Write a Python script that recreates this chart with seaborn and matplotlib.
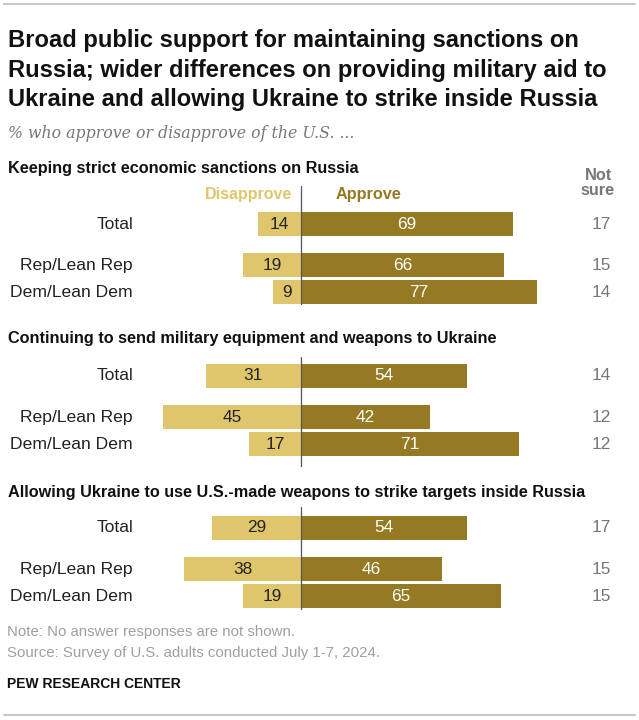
import matplotlib
matplotlib.use("Agg")
import matplotlib.pyplot as plt
import pandas as pd
import seaborn as sns

questions = [
    "Keeping strict economic sanctions on Russia",
    "Continuing to send military equipment and weapons to Ukraine",
    "Allowing Ukraine to use U.S.-made weapons to strike targets inside Russia",
]
groups = ["Total", "Rep/Lean Rep", "Dem/Lean Dem"]
disapprove = [[14, 19, 9], [31, 45, 17], [29, 38, 19]]
approve = [[69, 66, 77], [54, 42, 71], [54, 46, 65]]
not_sure = [[17, 15, 14], [14, 12, 12], [17, 15, 15]]

DARK = "#967a23"
LIGHT = "#dfc66c"
GRAY = "#777777"
LIGHTGRAY = "#a0a0a0"

sns.set_style("white")
plt.rcParams["font.family"] = ["Liberation Sans", "DejaVu Sans"]
BOLD = ["Liberation Sans", "DejaVu Sans"]

W, H = 639, 720
fig = plt.figure(figsize=(W / 100, H / 100), dpi=100)


def rect(left, top, right, bottom):
    return [left / W, 1 - bottom / H, (right - left) / W, (bottom - top) / H]


def ftext(x, y, s, **kw):
    # place text in pixel coords (y from top)
    fig.text(x / W, 1 - y / H, s, **kw)


PX = 3.07          # pixels per percentage point
ZERO = 301         # x pixel of the zero line
AX_L, AX_R = 150, 625
ROW_PX = 27
row_pos = [0, 1.52, 2.52]

# (zero line top, Total row center, zero line bottom)
sections = [(186, 224, 305), (357, 376, 467), (507, 528, 610)]
headers_y = [169, 339, 492]

for i, (top, total_c, bottom) in enumerate(sections):
    ax = fig.add_axes(rect(AX_L, top, AX_R, bottom))
    df = pd.DataFrame({
        "pos": row_pos + row_pos,
        "value": [-v for v in disapprove[i]] + approve[i],
        "side": ["Disapprove"] * 3 + ["Approve"] * 3,
    })
    sns.barplot(data=df, x="value", y="pos", hue="side", orient="h",
                native_scale=True, palette={"Disapprove": LIGHT, "Approve": DARK},
                saturation=1, width=0.89, errorbar=None, linewidth=0,
                dodge=False, legend=False, ax=ax)
    ax.set_xlim(-(ZERO - AX_L) / PX, (AX_R - ZERO) / PX)
    dem_c = total_c + row_pos[2] * ROW_PX
    ax.set_ylim(row_pos[2] + (bottom - dem_c) / ROW_PX, -(total_c - top) / ROW_PX)
    ax.axvline(0, color="#555555", lw=0.9)
    ax.axis("off")

    lab_x = -(ZERO - 133) / PX
    ns_x = (611 - ZERO) / PX
    for p, g, d, a, n in zip(row_pos, groups, disapprove[i], approve[i], not_sure[i]):
        ax.text(lab_x, p, g, ha="right", va="center", fontsize=12.6, color="#222222", clip_on=False)
        ax.text(-d / 2, p, str(d), ha="center", va="center", fontsize=12.4, color="#222222")
        ax.text(a / 2, p, str(a), ha="center", va="center", fontsize=12.4, color="white")
        ax.text(ns_x, p, str(n), ha="right", va="center", fontsize=12.4, color=GRAY, clip_on=False)

    ftext(8, headers_y[i], questions[i], ha="left", va="center", fontsize=11.7,
          fontweight="bold", family=BOLD, color="#111111")

# column headers
ftext(292, 195, "Disapprove", ha="right", va="center", fontsize=11.5,
      fontweight="bold", family=BOLD, color=LIGHT)
ftext(336, 195, "Approve", ha="left", va="center", fontsize=11.7,
      fontweight="bold", family=BOLD, color=DARK)
ftext(598, 183, "Not\nsure", ha="center", va="center", fontsize=11.7,
      fontweight="bold", family=BOLD, color=GRAY, linespacing=1.0)

# title block
title = ("Broad public support for maintaining sanctions on\n"
         "Russia; wider differences on providing military aid to\n"
         "Ukraine and allowing Ukraine to strike inside Russia")
ftext(8, 70, title, ha="left", va="center", fontsize=17.1, fontweight="bold",
      family=BOLD, color="#111111", linespacing=1.38)
ftext(8, 133, "% who approve or disapprove of the U.S. ...", ha="left", va="center",
      fontsize=11.3, style="italic", family=["DejaVu Serif"], color=GRAY)

# footer
ftext(7, 632, "Note: No answer responses are not shown.", ha="left", va="center",
      fontsize=10.8, color=LIGHTGRAY)
ftext(7, 653, "Source: Survey of U.S. adults conducted July 1-7, 2024.", ha="left",
      va="center", fontsize=10.8, color=LIGHTGRAY)
ftext(7, 684, "PEW RESEARCH CENTER", ha="left", va="center", fontsize=10,
      fontweight="bold", family=BOLD, color="#111111")

# top and bottom rules
fig.add_artist(plt.Line2D([4 / W, 635 / W], [1 - 4 / H, 1 - 4 / H], color="#c8c8c8", lw=1.5))
fig.add_artist(plt.Line2D([4 / W, 635 / W], [1 - 715 / H, 1 - 715 / H], color="#c8c8c8", lw=1.5))

fig.savefig("out.png", dpi=100, facecolor="white")
